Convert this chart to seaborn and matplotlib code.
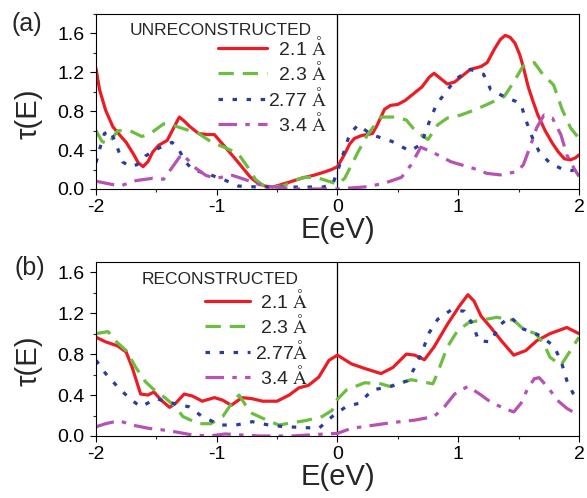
import numpy as np
import pandas as pd
import matplotlib.pyplot as plt
import seaborn as sns
from matplotlib.lines import Line2D
from matplotlib.ticker import MultipleLocator, FormatStrFormatter

sns.set_style("ticks")
plt.rcParams['font.family'] = ['Liberation Sans', 'DejaVu Sans']
plt.rcParams['mathtext.fontset'] = 'stix'
plt.rcParams['axes.unicode_minus'] = False

# ---- (a) unreconstructed ----
E_A_21 = [-2.0, -1.97, -1.92, -1.86, -1.80, -1.75, -1.69, -1.65, -1.61, -1.57, -1.53, -1.48,
          -1.41, -1.36, -1.31, -1.27, -1.23, -1.15, -1.08, -1.02, -0.95, -0.86, -0.80, -0.72,
          -0.66, -0.60, -0.54, -0.48, -0.40, -0.30, -0.20, -0.12, -0.05, 0.0, 0.06, 0.10,
          0.14, 0.20, 0.29, 0.33, 0.39, 0.44, 0.50, 0.56, 0.64, 0.70, 0.76, 0.80, 0.85, 0.91,
          0.97, 1.04, 1.10, 1.19, 1.24, 1.30, 1.35, 1.39, 1.43, 1.47, 1.51, 1.54, 1.58, 1.62,
          1.66, 1.72, 1.78, 1.83, 1.88, 1.93, 1.97, 2.0]
T_A_21 = [1.24, 1.02, 0.81, 0.64, 0.55, 0.48, 0.36, 0.27, 0.23, 0.28, 0.38, 0.45,
          0.50, 0.62, 0.74, 0.70, 0.65, 0.57, 0.56, 0.56, 0.46, 0.33, 0.24, 0.12,
          0.06, 0.03, 0.02, 0.04, 0.07, 0.11, 0.14, 0.17, 0.20, 0.23, 0.36, 0.46,
          0.52, 0.55, 0.57, 0.66, 0.82, 0.86, 0.87, 0.91, 0.99, 1.05, 1.15, 1.19, 1.14, 1.08,
          1.10, 1.17, 1.23, 1.26, 1.30, 1.44, 1.54, 1.58, 1.56, 1.50, 1.38, 1.25, 1.05, 0.90,
          0.76, 0.60, 0.47, 0.38, 0.31, 0.30, 0.32, 0.35]

E_A_23 = [-2.0, -1.95, -1.90, -1.82, -1.72, -1.62, -1.55, -1.44, -1.35, -1.25, -1.15, -1.04,
          -0.92, -0.82, -0.74, -0.68, -0.62, -0.55, -0.45, -0.35, -0.28, -0.18, -0.10, 0.0,
          0.06, 0.17, 0.25, 0.36, 0.47, 0.57, 0.65, 0.75, 0.83, 0.91, 1.02, 1.13, 1.24, 1.38,
          1.46, 1.53, 1.56, 1.63, 1.70, 1.79, 1.86, 1.93, 2.0]
T_A_23 = [0.60, 0.49, 0.46, 0.60, 0.60, 0.54, 0.57, 0.67, 0.65, 0.61, 0.57, 0.48,
          0.42, 0.36, 0.22, 0.10, 0.04, 0.02, 0.03, 0.09, 0.12, 0.12, 0.09, 0.05,
          0.11, 0.38, 0.56, 0.74, 0.74, 0.71, 0.59, 0.51, 0.66, 0.73, 0.76, 0.81, 0.87, 0.95,
          1.10, 1.25, 1.29, 1.30, 1.18, 1.07, 0.82, 0.63, 0.52]

E_A_277 = [-2.0, -1.97, -1.93, -1.88, -1.83, -1.78, -1.72, -1.66, -1.59, -1.48, -1.37, -1.32,
           -1.26, -1.20, -1.12, -1.04, -0.93, -0.82, -0.65, -0.48, -0.30, -0.12, -0.04, 0.0,
           0.05, 0.10, 0.17, 0.28, 0.45, 0.60, 0.68, 0.71, 0.76, 0.82, 0.90, 0.98, 1.10, 1.21,
           1.27, 1.38, 1.48, 1.52, 1.56, 1.61, 1.67, 1.76, 1.87, 1.94, 2.0]
T_A_277 = [0.27, 0.41, 0.57, 0.60, 0.45, 0.28, 0.23, 0.25, 0.34, 0.42, 0.48, 0.42,
           0.28, 0.20, 0.17, 0.14, 0.09, 0.03, 0.02, 0.02, 0.02, 0.02, 0.05, 0.18,
           0.37, 0.56, 0.66, 0.56, 0.49, 0.39, 0.45, 0.52, 0.69, 0.87, 1.00, 1.13, 1.23, 1.18,
           1.02, 0.95, 0.90, 0.87, 0.71, 0.54, 0.385, 0.265, 0.20, 0.19, 0.21]

E_A_34 = [-2.0, -1.86, -1.79, -1.67, -1.53, -1.44, -1.37, -1.29, -1.23, -1.17, -1.09, -1.01,
          -0.87, -0.82, -0.74, -0.62, -0.49, -0.32, 0.0, 0.25, 0.39, 0.53, 0.61, 0.69, 0.80,
          0.94, 1.13, 1.24, 1.35, 1.49, 1.54, 1.60, 1.65, 1.71, 1.78, 1.85, 1.90, 1.96, 2.0]
T_A_34 = [0.08, 0.045, 0.035, 0.086, 0.11, 0.10, 0.22, 0.36, 0.29, 0.21, 0.14, 0.11,
          0.14, 0.12, 0.086, 0.034, 0.017, 0.0, 0.0, 0.024, 0.06, 0.12, 0.25, 0.43, 0.37,
          0.28, 0.21, 0.16, 0.145, 0.18, 0.25, 0.45, 0.63, 0.76, 0.73, 0.56, 0.35, 0.21, 0.13]

# ---- (b) reconstructed ----
E_B_21 = [-2.0, -1.92, -1.82, -1.75, -1.70, -1.66, -1.63, -1.57, -1.52, -1.46, -1.39, -1.34,
          -1.27, -1.20, -1.12, -1.02, -0.95, -0.88, -0.79, -0.71, -0.62, -0.50, -0.40, -0.32,
          -0.24, -0.155, -0.07, 0.0, 0.115, 0.225, 0.36, 0.46, 0.57, 0.64, 0.72, 0.80, 0.91,
          1.01, 1.08, 1.13, 1.19, 1.27, 1.365, 1.46, 1.56, 1.65, 1.76, 1.90, 2.0]
T_B_21 = [0.965, 0.92, 0.88, 0.82, 0.67, 0.52, 0.41, 0.40, 0.43, 0.35, 0.28, 0.32,
          0.41, 0.39, 0.34, 0.375, 0.35, 0.30, 0.375, 0.365, 0.34, 0.34, 0.40, 0.47,
          0.495, 0.575, 0.74, 0.79, 0.705, 0.66, 0.61, 0.67, 0.80, 0.79, 0.745, 0.87, 1.09,
          1.27, 1.38, 1.32, 1.17, 1.06, 0.92, 0.79, 0.835, 0.93, 1.0, 1.06, 1.00]

E_B_23 = [-2.0, -1.90, -1.83, -1.75, -1.67, -1.59, -1.50, -1.435, -1.34, -1.28, -1.15, -1.05,
          -0.95, -0.87, -0.815, -0.76, -0.705, -0.595, -0.485, -0.375, -0.265, -0.127, -0.045,
          0.0, 0.075, 0.225, 0.36, 0.43, 0.61, 0.79, 0.82, 0.91, 0.995, 1.09, 1.23, 1.32, 1.46,
          1.54, 1.64, 1.71, 1.76, 1.85, 1.93, 2.0]
T_B_23 = [1.0, 1.02, 0.92, 0.835, 0.67, 0.53, 0.43, 0.38, 0.285, 0.19, 0.12, 0.12,
          0.19, 0.33, 0.40, 0.30, 0.22, 0.16, 0.107, 0.13, 0.15, 0.19, 0.25,
          0.36, 0.45, 0.52, 0.51, 0.485, 0.55, 0.51, 0.59, 0.87, 1.03, 1.11, 1.14, 1.16, 1.13,
          1.045, 1.0, 0.90, 0.77, 0.69, 0.835, 0.965]

E_B_277 = [-2.0, -1.92, -1.82, -1.72, -1.63, -1.50, -1.40, -1.23, -1.12, -0.97, -0.84, -0.705,
           -0.57, -0.43, -0.29, -0.155, -0.044, 0.075, 0.18, 0.29, 0.445, 0.58, 0.65, 0.71,
           0.76, 0.83, 0.94, 1.05, 1.12, 1.17, 1.27, 1.34, 1.43, 1.54, 1.68, 1.79, 1.85, 1.90,
           1.95, 2.0]
T_B_277 = [0.74, 0.61, 0.48, 0.365, 0.285, 0.365, 0.33, 0.285, 0.19, 0.107, 0.107, 0.14,
           0.107, 0.09, 0.084, 0.074, 0.19, 0.29, 0.32, 0.45, 0.485, 0.54, 0.69, 0.85,
           1.01, 1.14, 1.23, 1.22, 1.09, 0.93, 0.92, 1.08, 1.165, 1.045, 0.98, 0.88, 0.74, 0.54,
           0.42, 0.36]

E_B_34 = [-2.0, -1.92, -1.81, -1.70, -1.56, -1.48, -1.34, -1.20, -1.06, -0.93, -0.79, -0.65,
          -0.375, -0.10, 0.0, 0.115, 0.31, 0.445, 0.64, 0.80, 0.885, 0.97, 1.08, 1.19, 1.27,
          1.38, 1.46, 1.52, 1.57, 1.63, 1.67, 1.74, 1.82, 1.90, 2.0]
T_B_34 = [0.09, 0.12, 0.15, 0.107, 0.074, 0.065, 0.04, 0.01, 0.0, 0.02, 0.01, 0.0,
          0.0, 0.02, 0.026, 0.075, 0.107, 0.13, 0.155, 0.19, 0.285, 0.41, 0.485, 0.40, 0.33,
          0.27, 0.235, 0.32, 0.45, 0.56, 0.57, 0.48, 0.35, 0.27, 0.20]

SERIES = ['2.1', '2.3', '2.77', '3.4']
LABELS_A = ['  2.1 $\\mathrm{Å}$', '  2.3 $\\mathrm{Å}$', '2.77 $\\mathrm{Å}$', '  3.4 $\\mathrm{Å}$']
LABELS_B = [' 2.1 $\\mathrm{Å}$', ' 2.3 $\\mathrm{Å}$', '2.77$\\mathrm{Å}$', ' 3.4 $\\mathrm{Å}$']

palette = {'2.1': '#ec1c24', '2.3': '#6cbd40', '2.77': '#2b3b9e', '3.4': '#b552b3'}
dash_map = {'2.1': '', '2.3': (4.8, 2.8), '2.77': (1.4, 3.0), '3.4': (5.8, 2.6, 1.4, 2.6)}


def make_df(pairs):
    frames = []
    for key, (xs, ys) in zip(SERIES, pairs):
        frames.append(pd.DataFrame({'E': xs, 'tau': ys, 'd': key}))
    return pd.concat(frames, ignore_index=True)


df_a = make_df([(E_A_21, T_A_21), (E_A_23, T_A_23), (E_A_277, T_A_277), (E_A_34, T_A_34)])
df_b = make_df([(E_B_21, T_B_21), (E_B_23, T_B_23), (E_B_277, T_B_277), (E_B_34, T_B_34)])

fig = plt.figure(figsize=(5.87, 4.98), dpi=100)
ax_a = fig.add_axes([0.1635, 0.6205, 0.8228, 0.3514])
ax_b = fig.add_axes([0.1635, 0.1245, 0.8228, 0.3494])

panels = [
    (ax_a, df_a, 1.8, 'UNRECONSTRUCTED', LABELS_A, (0.070, 0.88), (0.2526, 0.875), 2.5, 0.05),
    (ax_b, df_b, 1.7, 'RECONSTRUCTED', LABELS_B, (0.095, 0.874), (0.2257, 0.845), 2.3, 0.25),
]

for ax, df, ytop, title, labels, tpos, lpos, hlen, hpad in panels:
    sns.lineplot(data=df, x='E', y='tau', hue='d', style='d', hue_order=SERIES,
                 style_order=SERIES, palette=palette, dashes=dash_map, estimator=None,
                 sort=False, lw=2.3, legend=False, ax=ax)
    ax.axvline(0, color='black', lw=0.9, zorder=1)
    ax.set_xlim(-2, 2)
    ax.set_ylim(0, ytop)
    ax.xaxis.set_major_locator(MultipleLocator(1))
    ax.xaxis.set_minor_locator(MultipleLocator(0.5))
    ax.yaxis.set_major_locator(MultipleLocator(0.4))
    ax.yaxis.set_minor_locator(MultipleLocator(0.2))
    ax.yaxis.set_major_formatter(FormatStrFormatter('%.1f'))
    ax.tick_params(which='major', direction='out', length=4.5, width=0.8, labelsize=14,
                   colors='black')
    ax.tick_params(axis='x', which='major', pad=3)
    ax.tick_params(axis='y', which='major', pad=4)
    ax.tick_params(which='minor', direction='out', length=2.5, width=0.8)
    for sp in ax.spines.values():
        sp.set_linewidth(0.8)
        sp.set_color('black')
    ax.set_xlabel('E(eV)', fontsize=21, labelpad=0)
    ax.set_ylabel('τ(E)', fontsize=21)
    ax.yaxis.set_label_coords(-0.11, 0.43)

    ax.text(tpos[0], tpos[1], title, transform=ax.transAxes, fontsize=12.5,
            ha='left', va='baseline')
    handles = []
    for k in SERIES:
        h = Line2D([], [], color=palette[k], lw=2.3, linestyle='-')
        if dash_map[k]:
            h.set_dashes(dash_map[k])
        handles.append(h)
    ax.legend(handles, labels, loc='upper left', bbox_to_anchor=lpos, frameon=False,
              fontsize=14, handlelength=hlen, handletextpad=hpad, labelspacing=0.12,
              borderpad=0, borderaxespad=0)

fig.text(0.046, 0.952, '(a)', fontsize=18, ha='center', va='center')
fig.text(0.051, 0.462, '(b)', fontsize=18, ha='center', va='center')

fig.savefig('out.png', dpi=100)
